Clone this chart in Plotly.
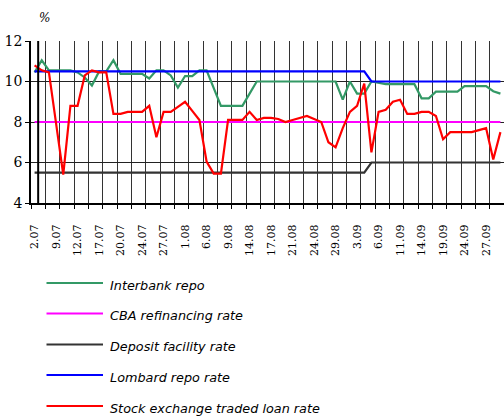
import plotly.graph_objects as go

# ---------------- data ----------------
tick_labels = ["2.07", "9.07", "12.07", "17.07", "20.07", "24.07", "27.07", "1.08",
               "6.08", "9.08", "14.08", "17.08", "21.08", "24.08", "29.08", "3.09",
               "6.09", "11.09", "14.09", "19.09", "24.09", "27.09"]

series_names = ["Interbank repo", "CBA refinancing rate", "Deposit facility rate",
                "Lombard repo rate", "Stock exchange traded loan rate"]

interbank = [10.45, 11.05, 10.55, 10.55, 10.55, 10.55, 10.45, 10.2, 9.8, 10.5,
             10.5, 11.05, 10.38, 10.38, 10.38, 10.38, 10.15, 10.55, 10.55, 10.3,
             9.7, 10.27, 10.27, 10.55, 10.55, 9.65, 8.8, 8.8, 8.8, 8.8,
             9.4, 10.0, 10.0, 10.0, 10.0, 10.0, 10.0, 10.0, 10.0, 10.0,
             10.0, 10.0, 10.0, 9.1, 10.0, 9.4, 9.4, 10.0, 9.93, 9.87,
             9.87, 9.87, 9.87, 9.87, 9.17, 9.17, 9.5, 9.5, 9.5, 9.5,
             9.77, 9.77, 9.77, 9.77, 9.52, 9.4]

refinancing = [8.0, 8.0, 8.0, 8.0, 8.0, 8.0, 8.0, 8.0, 8.0, 8.0,
               8.0, 8.0, 8.0, 8.0, 8.0, 8.0, 8.0, 8.0, 8.0, 8.0,
               8.0, 8.0, 8.0, 8.0, 8.0, 8.0, 8.0, 8.0, 8.0, 8.0,
               8.0, 8.0, 8.0, 8.0, 8.0, 8.0, 8.0, 8.0, 8.0, 8.0,
               8.0, 8.0, 8.0, 8.0, 8.0, 8.0, 8.0, 8.0, 8.0, 8.0,
               8.0, 8.0, 8.0, 8.0, 8.0, 8.0, 8.0, 8.0, 8.0, 8.0,
               8.0, 8.0, 8.0, 8.0, 8.0, 8.0]

deposit = [5.5, 5.5, 5.5, 5.5, 5.5, 5.5, 5.5, 5.5, 5.5, 5.5,
           5.5, 5.5, 5.5, 5.5, 5.5, 5.5, 5.5, 5.5, 5.5, 5.5,
           5.5, 5.5, 5.5, 5.5, 5.5, 5.5, 5.5, 5.5, 5.5, 5.5,
           5.5, 5.5, 5.5, 5.5, 5.5, 5.5, 5.5, 5.5, 5.5, 5.5,
           5.5, 5.5, 5.5, 5.5, 5.5, 5.5, 5.5, 6.0, 6.0, 6.0,
           6.0, 6.0, 6.0, 6.0, 6.0, 6.0, 6.0, 6.0, 6.0, 6.0,
           6.0, 6.0, 6.0, 6.0, 6.0, 6.0]

lombard = [10.5, 10.5, 10.5, 10.5, 10.5, 10.5, 10.5, 10.5, 10.5, 10.5,
           10.5, 10.5, 10.5, 10.5, 10.5, 10.5, 10.5, 10.5, 10.5, 10.5,
           10.5, 10.5, 10.5, 10.5, 10.5, 10.5, 10.5, 10.5, 10.5, 10.5,
           10.5, 10.5, 10.5, 10.5, 10.5, 10.5, 10.5, 10.5, 10.5, 10.5,
           10.5, 10.5, 10.5, 10.5, 10.5, 10.5, 10.5, 10.0, 10.0, 10.0,
           10.0, 10.0, 10.0, 10.0, 10.0, 10.0, 10.0, 10.0, 10.0, 10.0,
           10.0, 10.0, 10.0, 10.0, 10.0, 10.0]

stock_loan = [10.8, 10.55, 10.45, 7.9, 5.4, 8.8, 8.8, 10.3, 10.55, 10.45,
              10.45, 8.4, 8.4, 8.5, 8.5, 8.5, 8.8, 7.25, 8.5, 8.5,
              8.75, 9.0, 8.55, 8.1, 6.05, 5.45, 5.45, 8.1, 8.1, 8.1,
              8.5, 8.1, 8.2, 8.2, 8.15, 8.0, 8.1, 8.2, 8.3, 8.15,
              8.0, 7.0, 6.75, 7.7, 8.5, 8.8, 9.9, 6.5, 8.5, 8.6,
              9.0, 9.1, 8.4, 8.4, 8.5, 8.5, 8.3, 7.15, 7.5, 7.5,
              7.5, 7.5, 7.6, 7.7, 6.15, 7.5]

colors = ["#339966", "#FF00FF", "#333333", "#0000FF", "#FF0000"]
all_series = [interbank, refinancing, deposit, lombard, stock_loan]

x = list(range(len(interbank)))
tick_positions = x[::3][:len(tick_labels)]

SERIF = "DejaVu Serif"
SANS = "DejaVu Sans"

# ---------------- figure ----------------
W, H = 504, 417
ML, MR, MT, MB = 31, 0, 41, 214
PW, PH = W - ML - MR, H - MT - MB

fig = go.Figure()
for name, vals, col in zip(series_names, all_series, colors):
    fig.add_trace(go.Scatter(x=x, y=vals, mode="lines", name=name,
                             line=dict(color=col, width=2.2), showlegend=False,
                             hoverinfo="skip"))

fig.update_layout(
    width=W, height=H, autosize=False,
    margin=dict(l=ML, r=MR, t=MT, b=MB, pad=0),
    plot_bgcolor="white", paper_bgcolor="white",
    showlegend=False,
    xaxis=dict(
        range=[-0.5, len(x) - 0.5],
        tickmode="array", tickvals=tick_positions, ticktext=tick_labels,
        tickangle=-90, ticks="", showgrid=False,
        tickfont=dict(family=SERIF, size=11, color="black"),
        ticklabelstandoff=15,
        showline=True, linecolor="black", linewidth=2,
        zeroline=False,
        minor=dict(tick0=1.5, dtick=2, ticks="outside", ticklen=4,
                   tickcolor="black", tickwidth=1,
                   showgrid=True, gridcolor="#333333", gridwidth=1),
    ),
    yaxis=dict(
        range=[4, 12], tickmode="array", tickvals=[4, 6, 8, 10, 12],
        ticks="outside", ticklen=4, tickcolor="black",
        showgrid=True, gridcolor="#222222", gridwidth=1,
        showline=True, linecolor="black", linewidth=1.5,
        zeroline=False,
        tickfont=dict(family=SERIF, size=14, color="black"),
    ),
)

# thick vertical line near the left of the plot (as in reference)
fig.add_shape(type="line", xref="x", yref="y", x0=0.5, x1=0.5, y0=4, y1=12,
              line=dict(color="black", width=2))

# % unit label
def px_to_paper(px, py):
    return (px - ML) / PW, (H - MB - py) / PH

ux, uy = px_to_paper(44, 18)
fig.add_annotation(text="<i>%</i>", x=ux, y=uy, xref="paper", yref="paper",
                   showarrow=False, font=dict(family=SERIF, size=12, color="black"),
                   xanchor="center", yanchor="middle")

# manual legend
legend_rows_py = [283, 313.5, 344.5, 375, 406]
for name, col, py in zip(series_names, colors, legend_rows_py):
    x0, y0 = px_to_paper(46.5, py)
    x1, _ = px_to_paper(103, py)
    fig.add_shape(type="line", xref="paper", yref="paper", x0=x0, x1=x1, y0=y0, y1=y0,
                  line=dict(color=col, width=2))
    tx, ty = px_to_paper(108, py + 2)
    fig.add_annotation(text="<i>" + name + "</i>", x=tx, y=ty, xref="paper", yref="paper",
                       showarrow=False, xanchor="left", yanchor="middle",
                       font=dict(family=SANS, size=12.8, color="black"))

fig.write_html("out.html", config={"displayModeBar": False},
               post_script="document.body.style.margin='0';document.body.style.padding='0';")
